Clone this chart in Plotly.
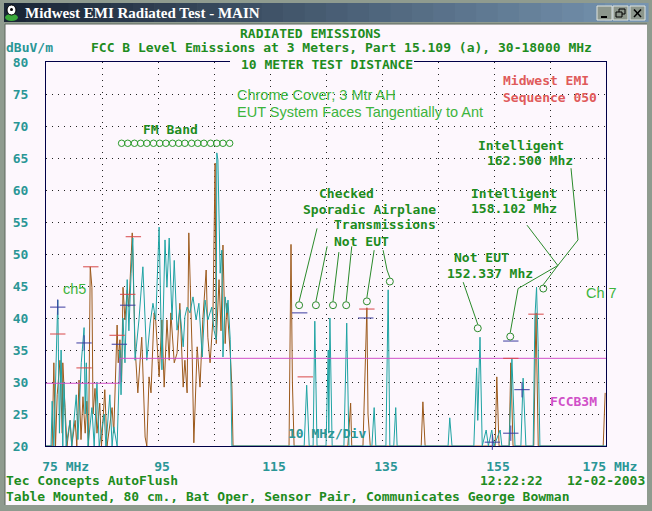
import plotly.graph_objects as go

# ---- spectrum data (MHz, dBuV/m) ----
teal_freq = [75.0, 75.9, 76.1, 76.4, 76.8, 77.1, 77.4, 77.7, 78.0, 78.2, 78.6, 79.3, 79.6,
             80.4, 80.7, 81.3, 81.8, 82.0, 82.2, 82.5, 83.2, 83.6, 84.1, 84.5, 85.4, 85.7,
             86.4, 86.8, 87.1, 87.7, 88.2, 88.4, 88.75, 89.1, 89.5, 89.8, 90.2, 90.5, 90.9,
             91.6, 92.3, 93.0, 93.6, 94.1, 94.6, 95.2, 95.7, 96.25, 96.6, 97.0, 97.5, 97.9,
             98.4, 98.9, 99.5, 99.8, 100.2, 100.7, 101.25, 101.8, 102.3, 102.9, 103.4, 103.9,
             104.6, 105.0, 105.4, 105.5, 105.7, 106.1, 106.4, 106.6, 107.0, 107.3, 107.5,
             107.9, 108.2,
             121.1, 121.55, 122.0, 122.7, 123.0, 123.4, 125.0, 125.4, 125.5, 125.7, 126.1,
             128.2, 128.7, 129.1, 133.2, 133.6, 133.9, 135.7, 136.1, 136.4, 137.1, 137.45,
             137.7, 146.8, 147.1, 147.5, 151.4, 151.9, 152.1, 152.5, 152.9, 153.6, 154.0,
             154.6, 155.0, 156.1, 156.4, 157.7, 158.2, 158.75, 159.8, 160.2, 160.7, 162.0,
             162.3, 162.6, 162.9, 163.2, 175.0]
teal_level = [20, 20, 27, 20, 33, 42.8, 22, 35, 20, 30, 20, 24, 20,
              28, 21, 33, 38.5, 25, 33, 20, 26, 20, 30, 20, 25, 20,
              28, 20, 23, 20, 35, 28, 40, 33, 46, 38, 47, 52.5, 33.4,
              39.7, 48, 33.4, 39.2, 42.3, 39.7, 54.2, 31.9, 52.2, 44.8, 52.5, 39.7, 49,
              38.1, 41.3, 35.5, 40.2, 41.7, 40.8, 43.3, 39.7, 42.3, 33.9, 42.8, 39.7,
              41.7, 38.1, 36.6, 65.8, 64.7, 47, 50.6, 33.9, 43.3, 40.8, 42.8,
              36.6, 20,
              20, 29.5, 20, 20, 39.5, 20, 20, 35, 22, 40, 20,
              20, 39.2, 20, 20, 26, 20, 20, 44.4, 20, 20, 26,
              20, 20, 24.4, 20, 20, 32.2, 24, 37, 20, 22.5, 20,
              22.5, 20, 22.5, 20, 20, 33.7, 20, 20, 30.6, 20, 20,
              40, 44.8, 35, 20, 20]

brown_freq = [75.0, 76.1, 76.4, 76.7, 77.0, 77.5, 77.9, 78.0, 78.4, 78.75, 79.3, 79.6, 80.2,
              80.5, 80.9, 81.25, 81.6, 82.0, 82.3, 82.6, 82.9, 83.2, 83.4, 83.75, 84.1, 84.6,
              84.9, 85.5, 85.9, 86.8, 87.1, 87.7, 87.9, 88.2, 88.5, 88.75, 89.1, 89.5, 89.8,
              90.4, 90.9, 91.4, 92.1, 92.7, 93.0, 93.4, 93.75, 94.3, 94.6, 95.2, 95.7, 96.1,
              96.6, 97.0, 97.3, 97.9, 98.4, 98.9, 99.5, 99.8, 100.2, 100.5, 101.1, 101.4,
              102.0, 102.5, 103.0, 103.6, 103.9, 104.3, 104.8, 105.2, 105.4, 105.9, 106.25,
              106.6, 107.0, 107.3, 107.9, 108.2, 108.4,
              118.4, 118.75, 119.0, 119.3, 128.9, 129.4, 129.6, 131.6, 131.95, 132.3, 132.5,
              132.9, 142.0, 142.3, 142.7, 155.2, 155.5, 155.9, 157.7, 158.0, 158.4, 162.1,
              162.5, 162.9, 174.5, 174.85]
brown_level = [20, 20, 33, 20, 28, 33.4, 22, 33, 26, 20, 24, 20, 24,
               20, 30.3, 21, 27.7, 22, 27, 20, 48, 44.8, 25, 29, 22, 26.7,
               20, 28.8, 20, 26, 22, 38.9, 33, 36.6, 30, 44.8, 39.7, 44.4, 41.7,
               53.3, 35.5, 28.3, 37, 21.4, 20, 30.8, 28.3, 40.8, 39.5, 30.8, 39.7, 29.2,
               39.7, 33.4, 40.8, 33, 34.5, 42.3, 29.2, 33.4, 28.3, 53.3, 34.5, 20.5,
               35.5, 29.2, 39.7, 47.5, 37, 33, 39.7, 64.2, 36, 46, 38,
               51.4, 36, 42.3, 34.5, 29.2, 20,
               20, 51.5, 30, 20, 20, 26.7, 20, 20, 30, 41.6, 25,
               20, 20, 26.9, 20, 20, 30.8, 20, 20, 33, 20, 20,
               40.8, 20, 20, 28.3]

limit_freq = [75, 88.2, 88.2, 175]
limit_level = [29.8, 29.8, 33.7, 33.7]

red_mark_freq = [77.1, 81.8, 83.0, 87.7, 89.6, 90.6, 121.3, 132.3, 158.0, 162.5, 175.4,
                 80.2, 109.3, 109.3, 112.5, 125.4, 133.6, 152.3]
red_mark_level = [37.5, 32.2, 48.0, 37.3, 43.7, 52.7, 30.8, 41.4, 33.7, 40.6, 41.7,
                  16.6, 18.3, 17.7, 17.0, 17.7, 19.4, 18.4]
blue_mark_freq = [88.1, 89.6, 120.3, 132.1, 158.0, 80.1, 84.3, 137.3]
blue_mark_level = [35.9, 42.0, 40.8, 40.0, 36.4, 19.4, 18.0, 17.5]
blue_cross_freq = [77.1, 81.8, 160.0, 154.7, 158.0, 78.7]
blue_cross_level = [41.7, 36.1, 28.8, 20.6, 22.0, 17.2]

fm_circle_freq = [88.5, 89.6, 90.8, 91.9, 93.0, 94.2, 95.3, 96.4, 97.6, 98.7, 99.8, 101.0,
                  102.1, 103.2, 104.4, 105.5, 106.6, 107.8]
FM_ROW_LEVEL = 67.3

callout_freq = [120.2, 123.2, 126.25, 128.6, 132.3, 136.4, 152.1, 157.9, 163.8]
callout_level = [42.0, 42.0, 42.0, 42.0, 42.6, 45.7, 38.4, 37.1, 44.6]
leaders = [
    [(123.4, 54.0), (120.2, 42.6)],
    [(125.2, 51.2), (123.2, 42.6)],
    [(127.3, 50.3), (126.25, 42.6)],
    [(129.6, 51.2), (128.6, 42.6)],
    [(133.6, 50.6), (132.3, 43.2)],
    [(135.2, 50.6), (135.9, 47.5), (136.4, 46.3)],
    [(149.5, 45.6), (152.1, 39.0)],
    [(160.9, 54.5), (166.4, 48.2), (159.3, 44.6), (157.9, 37.7)],
    [(168.75, 63.4), (170.0, 52.2), (166.4, 48.2), (163.8, 45.2)],
]

x_ticks = [75, 85, 95, 105, 115, 125, 135, 145, 155, 165, 175]
x_tick_text = ["\u00a0\u00a0\u00a0\u00a075 MHz", "", "95", "", "115", "", "135", "", "155", "", "175 MHz"]
y_ticks = [20, 25, 30, 35, 40, 45, 50, 55, 60, 65, 70, 75, 80]

assert len(teal_freq) == len(teal_level)
assert len(brown_freq) == len(brown_level)

# ---- colours / fonts ----
PANEL = "#fdf7fd"
FRAME = "#8f9b8f"
GREEN = "#1e8c1e"
LGREEN = "#3cb43c"
TEAL = "#2a9696"
RED_TXT = "#e05a5a"
MAGENTA = "#d050c8"
RED_MK = "#d84848"
BLUE_MK = "#3c3ca0"
CIRC = "#2a8a2a"
MONO = "DejaVu Sans Mono"
SANS = "Liberation Sans"

W, H = 652, 511
LM, RM, TM, BM = 46, 46, 62, 65
PW, PH = W - LM - RM, H - TM - BM


def xp(px):
    return (px - LM) / PW


def yp(py):
    return (H - BM - py) / PH


fig = go.Figure()

fig.add_trace(go.Scatter(x=brown_freq, y=brown_level, mode="lines",
                         line=dict(color="#9c5a1c", width=1), hoverinfo="skip"))
fig.add_trace(go.Scatter(x=teal_freq, y=teal_level, mode="lines",
                         line=dict(color="#1fa3a3", width=1), hoverinfo="skip"))
fig.add_trace(go.Scatter(x=limit_freq, y=limit_level, mode="lines",
                         line=dict(color=MAGENTA, width=1), hoverinfo="skip"))

fig.add_trace(go.Scatter(x=red_mark_freq, y=red_mark_level, mode="markers", cliponaxis=False,
                         marker=dict(symbol="line-ew", size=11, color=RED_MK,
                                     line=dict(color=RED_MK, width=1))))
fig.add_trace(go.Scatter(x=blue_mark_freq, y=blue_mark_level, mode="markers", cliponaxis=False,
                         marker=dict(symbol="line-ew", size=11, color=BLUE_MK,
                                     line=dict(color=BLUE_MK, width=1))))
fig.add_trace(go.Scatter(x=blue_cross_freq, y=blue_cross_level, mode="markers", cliponaxis=False,
                         marker=dict(symbol="cross-thin", size=11, color=BLUE_MK,
                                     line=dict(color=BLUE_MK, width=1))))

# FM band row and callout circles
fig.add_trace(go.Scatter(x=fm_circle_freq, y=[FM_ROW_LEVEL] * len(fm_circle_freq), mode="markers",
                         marker=dict(symbol="circle-open", size=6.5, color="#2a9a2a",
                                     line=dict(color="#2a9a2a", width=1))))
lx, ly = [], []
for pts in leaders:
    for f, l in pts:
        lx.append(f)
        ly.append(l)
    lx.append(None)
    ly.append(None)
fig.add_trace(go.Scatter(x=lx, y=ly, mode="lines", line=dict(color=CIRC, width=1)))
fig.add_trace(go.Scatter(x=callout_freq, y=callout_level, mode="markers",
                         marker=dict(symbol="circle-open", size=7, color=CIRC,
                                     line=dict(color=CIRC, width=1))))

shapes = []


def rect(a, b, c, d, fill, line=None, lw=1):
    shapes.append(dict(type="rect", xref="paper", yref="paper", x0=xp(a), x1=xp(b),
                       y0=yp(d), y1=yp(c), fillcolor=fill, layer="above",
                       line=dict(color=line or fill, width=lw if line else 0)))


def seg(a, b, c, d, color, lw=1):
    shapes.append(dict(type="line", xref="paper", yref="paper", x0=xp(a), x1=xp(b),
                       y0=yp(c), y1=yp(d), line=dict(color=color, width=lw)))


# window frame
rect(0, 652, 0, 24, FRAME)
rect(0, 5, 0, 511, FRAME)
rect(647, 652, 0, 511, FRAME)
rect(0, 652, 505, 511, FRAME)
# title bar gradient
n = 30
for i in range(n):
    t = i / (n - 1)
    r = int(26 + t * (118 - 26))
    g = int(38 + t * (148 - 38))
    bl = int(54 + t * (176 - 54))
    x0 = 4 + i * (644 / n)
    rect(x0, x0 + 644 / n + 0.6, 3, 22, f"rgb({r},{g},{bl})")
# icon
shapes.append(dict(type="circle", xref="paper", yref="paper", x0=xp(5), x1=xp(18),
                   y0=yp(21), y1=yp(14), fillcolor="#3aa83a", line=dict(width=0)))
shapes.append(dict(type="circle", xref="paper", yref="paper", x0=xp(7), x1=xp(16),
                   y0=yp(15), y1=yp(5), fillcolor="white", line=dict(color="black", width=1)))
shapes.append(dict(type="circle", xref="paper", yref="paper", x0=xp(10), x1=xp(13),
                   y0=yp(11), y1=yp(8), fillcolor="black", line=dict(width=0)))
# buttons
for a in (597, 613, 630):
    rect(a, a + 15, 6, 20, "#8c968c", line="#dfe4df")
seg(601, 607, 17, 17, "black", 2)
rect(619, 625, 9, 14, "rgba(0,0,0,0)", line="black")
rect(616, 622, 12, 17, "#8c968c", line="black")
seg(634, 641, 9.5, 17, "black", 1.5)
seg(641, 634, 9.5, 17, "black", 1.5)
# panel edges
seg(5, 5, 24, 505, "#5c665c")
seg(5, 647, 24, 24, "#5c665c")
# gap in the top border behind the heading
rect(230, 414, 55, 70, PANEL)

fig.update_layout(shapes=shapes)

texts = [
    ("Midwest EMI Radiated Test - MAIN", 23, 12.5, "left", "white", "Liberation Serif", 15, True),
    ("RADIATED EMISSIONS", 310, 33, "center", GREEN, MONO, 13, True),
    ("dBuV/m", 4, 47, "left", TEAL, MONO, 13, True),
    ("FCC B Level Emissions at 3 Meters, Part 15.109 (a), 30-18000 MHz", 341, 47, "center", GREEN, MONO, 13, True),
    ("10 METER TEST DISTANCE", 327, 64, "center", GREEN, MONO, 13, True),
    ("Midwest EMI", 501, 81, "left", RED_TXT, MONO, 13, True),
    ("Sequence 050", 501, 97, "left", RED_TXT, MONO, 13, True),
    ("Chrome Cover; 3 Mtr AH", 235, 95, "left", LGREEN, SANS, 14.5, False),
    ("EUT System Faces Tangentially to Ant", 235, 112, "left", LGREEN, SANS, 14.5, False),
    ("FM Band", 170, 129, "center", GREEN, MONO, 13, True),
    ("Intelligent", 476, 145, "left", GREEN, MONO, 13, True),
    ("162.500 Mhz", 485, 160, "left", GREEN, MONO, 13, True),
    ("Checked", 346, 193, "center", GREEN, MONO, 13, True),
    ("Intelligent", 469, 193, "left", GREEN, MONO, 13, True),
    ("Sporadic Airplane", 301, 209, "left", GREEN, MONO, 13, True),
    ("158.102 Mhz", 469, 208, "left", GREEN, MONO, 13, True),
    ("Transmissions", 332, 224, "left", GREEN, MONO, 13, True),
    ("Not EUT", 332, 241, "left", GREEN, MONO, 13, True),
    ("Not EUT", 452, 257, "left", GREEN, MONO, 13, True),
    ("152.337 Mhz", 445, 273, "left", GREEN, MONO, 13, True),
    ("ch5", 61, 289, "left", LGREEN, SANS, 14.5, False),
    ("Ch 7", 584, 293, "left", LGREEN, SANS, 14.5, False),
    ("FCCB3M", 548, 401, "left", MAGENTA, MONO, 13, True),
    ("10 MHz/Div", 286, 433, "left", TEAL, MONO, 13, True),
    ("Tec Concepts AutoFlush", 4, 480, "left", GREEN, MONO, 13, True),
    ("12:22:22", 511, 480, "center", GREEN, MONO, 13, True),
    ("12-02-2003", 565, 480, "left", GREEN, MONO, 13, True),
    ("Table Mounted, 80 cm., Bat Oper, Sensor Pair, Communicates George Bowman", 4, 496, "left", GREEN, MONO, 13, True),
]
for txt, x, y, anchor, color, fam, size, bold in texts:
    fig.add_annotation(x=xp(x), y=yp(y), xref="paper", yref="paper", showarrow=False,
                       text=f"<b>{txt}</b>" if bold else txt, xanchor=anchor, yanchor="middle",
                       font=dict(family=fam, size=size, color=color))

fig.update_xaxes(range=[75, 175], tickvals=x_ticks, ticktext=[f"<b>{t}</b>" if t else "" for t in x_tick_text],
                 showgrid=True, gridcolor="#222222", griddash="1px,5px", gridwidth=1,
                 showline=True, mirror=True, linecolor="#000048", linewidth=1,
                 zeroline=False, ticks="", ticklabelstandoff=8, ticklabelshift=4,
                 tickfont=dict(family=MONO, size=13, color=TEAL), automargin=False,
                 layer="below traces", fixedrange=True)
fig.update_yaxes(range=[20, 80], tickvals=y_ticks, ticktext=[f"<b>{v}</b>" for v in y_ticks],
                 showgrid=True, gridcolor="#222222", griddash="1px,5px", gridwidth=1,
                 showline=True, mirror=True, linecolor="#000048", linewidth=1,
                 zeroline=False, ticks="", ticklabelstandoff=14,
                 tickfont=dict(family=MONO, size=13, color=TEAL), automargin=False,
                 layer="below traces", fixedrange=True)

fig.update_layout(width=W, height=H, margin=dict(l=LM, r=RM, t=TM, b=BM),
                  paper_bgcolor=PANEL, plot_bgcolor=PANEL, showlegend=False)

fig.write_html("out.html", config={"displayModeBar": False},
               post_script="document.body.style.margin='0px';document.body.style.overflow='hidden';")
